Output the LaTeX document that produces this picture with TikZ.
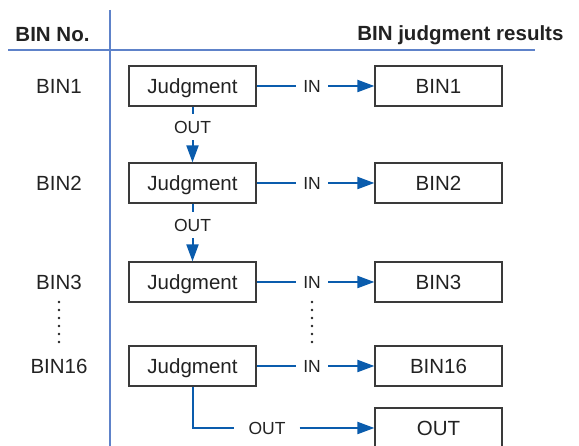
\documentclass[tikz,border=0pt]{standalone}
\usepackage{fontspec}
\setmainfont{Liberation Sans}
\usetikzlibrary{arrows.meta}

\definecolor{flowblue}{HTML}{0A5CAD}
\definecolor{ruleblue}{HTML}{5E82C9}
\definecolor{boxgray}{HTML}{3A3A3A}
\definecolor{txtgray}{HTML}{222222}

\tikzset{
  judgebox/.style={draw=boxgray, line width=1.2pt, minimum width=127pt,
    minimum height=40pt, inner sep=0pt, text depth=0pt, text=txtgray,
    font=\fontsize{20.5}{24}\selectfont},
  resbox/.style={judgebox},
  binlabel/.style={text=txtgray, font=\fontsize{20.5}{24}\selectfont},
  tag/.style={text=txtgray, inner xsep=7.5pt, inner ysep=7pt,
    font=\fontsize{17.5}{20}\selectfont},
  flow/.style={draw=flowblue, line width=2pt},
  flowarrow/.style={flow, -{Triangle[length=17pt,width=12pt]}},
  ruleline/.style={draw=ruleblue, line width=1.5pt}
}

\begin{document}
\begin{tikzpicture}[x=1pt,y=-1pt]
\useasboundingbox (0,0) rectangle (579,446);

% Titres
\node[binlabel, font=\fontsize{20.5}{24}\selectfont\bfseries] (hdrbin) at (52.5,35) {BIN No.};
\node[binlabel, font=\fontsize{20.5}{24}\selectfont\bfseries, anchor=east] (hdrres) at (567,35) {BIN judgment results};
\draw[ruleline] (8,50) -- (535,50);
\draw[ruleline] (110,10) -- (110,446);

% Lignes BIN
\foreach \n/\y in {
1/86,
2/183,
3/282,
16/366
}
{
\node[binlabel] (lab\n) at (59,\y) {BIN\n};
\node[judgebox] (judge\n) at (192.5,\y) {Judgment};
\node[resbox] (res\n) at (438.5,\y) {BIN\n};
\node[tag] (in\n) at (312,\y) {IN};
\draw[flow] (judge\n) -- (in\n);
\draw[flowarrow] (in\n) -- (res\n);
}

% Passage au BIN suivant
\node[tag] (out1) at (192.5,127) {OUT};
\draw[flow] (judge1) -- (out1);
\draw[flowarrow] (out1) -- (judge2);

\node[tag] (out2) at (192.5,225) {OUT};
\draw[flow] (judge2) -- (out2);
\draw[flowarrow] (out2) -- (judge3);

% Pointilles
\foreach \y in {302,310,...,342}
{
\fill[txtgray] (59,\y) circle (1.3pt);
\fill[txtgray] (312,\y) circle (1.3pt);
}

% Sortie finale
\node[tag, inner xsep=14pt] (outlast) at (267,428) {OUT};
\node[resbox] (resout) at (438.5,428) {OUT};
\draw[flow] (judge16.south) |- (outlast.west);
\draw[flowarrow] (outlast) -- (resout);

\end{tikzpicture}
\end{document}
